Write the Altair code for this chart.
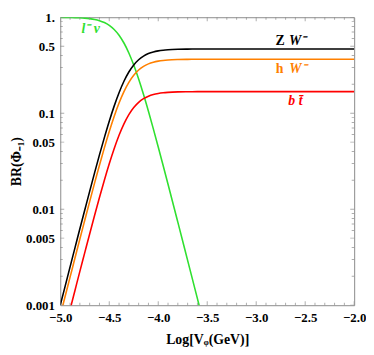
import altair as alt
import pandas as pd

# ---- data ----
X = [-5.0, -4.95, -4.9, -4.85, -4.8, -4.75, -4.7, -4.65, -4.6, -4.55, -4.5,
     -4.45, -4.4, -4.35, -4.3, -4.25, -4.2, -4.15, -4.1, -4.05, -4.0,
     -3.95, -3.9, -3.8, -3.7, -3.6, -3.5, -3.3, -3.0, -2.5, -2.0]

ZW = [0.00100, 0.00158, 0.00251, 0.00396, 0.00626, 0.00981, 0.01536, 0.0239,
      0.0368, 0.0557, 0.0826, 0.1186, 0.1636, 0.2152, 0.2687, 0.3186, 0.3609,
      0.3940, 0.4181, 0.4349, 0.4462, 0.4537, 0.4585, 0.4636, 0.4656, 0.4664,
      0.4668, 0.4670, 0.467, 0.467, 0.467]

HW = [0.000781, 0.00124, 0.00196, 0.00310, 0.00489, 0.00767, 0.01201, 0.01869,
      0.02876, 0.04358, 0.06453, 0.0927, 0.1279, 0.1682, 0.2100, 0.2490, 0.2821,
      0.3079, 0.3268, 0.3399, 0.3488, 0.3546, 0.3584, 0.3623, 0.3639, 0.3646,
      0.3648, 0.3650, 0.365, 0.365, 0.365]

BT = [0.000360, 0.000570, 0.000902, 0.001425, 0.002251, 0.003528, 0.005527,
      0.008602, 0.01324, 0.02006, 0.02970, 0.04267, 0.05887, 0.07743, 0.09667,
      0.1146, 0.1299, 0.1417, 0.1504, 0.1565, 0.1605, 0.1632, 0.1649, 0.1668,
      0.1675, 0.1678, 0.1679, 0.1680, 0.168, 0.168, 0.168]

LNU = [0.9979, 0.9966, 0.9946, 0.9915, 0.9866, 0.9790, 0.9671, 0.9488, 0.9212,
       0.8806, 0.8232, 0.7460, 0.6496, 0.5391, 0.4246, 0.3177, 0.2271, 0.1564,
       0.1047, 0.0687, 0.0445, 0.0285, 0.0182, 0.00733, 0.00293, 0.00117,
       0.000465]

SERIES = ["lnu", "ZW", "hW", "bt"]
COLORS = ["#30e030", "#000000", "#ff8000", "#ff0000"]

LABEL_TEXT = ["l\u207b  \u03bd", "Z", "W\u207b", "h", "W\u207b", "b t\u0304"]
LABEL_X = [-4.69, -2.755, -2.578, -2.760, -2.574, -2.60]
LABEL_Y = [0.76, 0.56, 0.56, 0.292, 0.292, 0.134]
LABEL_COLOR = ["#30e030", "#000000", "#000000", "#ff8000", "#ff8000", "#ff0000"]
LABEL_ITALIC = [True, False, True, False, True, True]

X_MAJOR = [-5.0, -4.5, -4.0, -3.5, -3.0, -2.5, -2.0]
X_MINOR = [-4.9, -4.8, -4.7, -4.6, -4.4, -4.3, -4.2, -4.1, -3.9, -3.8, -3.7,
           -3.6, -3.4, -3.3, -3.2, -3.1, -2.9, -2.8, -2.7, -2.6, -2.4, -2.3,
           -2.2, -2.1]
Y_MAJOR = [1, 0.5, 0.1, 0.05, 0.01, 0.005, 0.001]
Y_MINOR = [0.002, 0.003, 0.004, 0.006, 0.007, 0.008, 0.009,
           0.02, 0.03, 0.04, 0.06, 0.07, 0.08, 0.09,
           0.2, 0.3, 0.4, 0.6, 0.7, 0.8, 0.9]

X_EDGES = [-5.0, -2.0]   # left / right frame
Y_EDGES = [0.001, 1.0]   # bottom / top frame
MAJOR_LEN = 8            # drawn centred on the frame and clipped -> half inside
MINOR_LEN = 5

# ---- tables ----
rows = []
for name, ys in zip(SERIES, [LNU, ZW, HW, BT]):
    for xv, yv in zip(X, ys):
        rows.append({"x": xv, "br": yv, "s": name})
df = pd.DataFrame(rows)

lab = pd.DataFrame({"x": LABEL_X, "br": LABEL_Y, "t": LABEL_TEXT,
                    "c": LABEL_COLOR, "it": LABEL_ITALIC})

xt_rows = []
for e in Y_EDGES:
    for v in X_MAJOR:
        xt_rows.append({"x": v, "br": e, "len": MAJOR_LEN})
    for v in X_MINOR:
        xt_rows.append({"x": v, "br": e, "len": MINOR_LEN})
xt = pd.DataFrame(xt_rows)

yt_rows = []
for e in X_EDGES:
    for v in Y_MAJOR:
        yt_rows.append({"x": e, "br": v, "len": MAJOR_LEN})
    for v in Y_MINOR:
        yt_rows.append({"x": e, "br": v, "len": MINOR_LEN})
yt = pd.DataFrame(yt_rows)

FONT = "Liberation Serif"
GRAY = "#8a8a8a"
xs = alt.Scale(domain=[-5, -2], nice=False, zero=False)
ys_ = alt.Scale(type="log", domain=[0.001, 1], nice=False)
cs = alt.Scale(domain=SERIES, range=COLORS)

lines = alt.Chart(df).mark_line(strokeWidth=1.6, clip=True, interpolate="monotone").encode(
    x=alt.X("x:Q", scale=xs, axis=alt.Axis(
        orient="bottom", values=X_MAJOR, format=".1f", ticks=False,
        domain=False, grid=False, labelFont=FONT,
        labelFontSize=13, labelFontWeight="bold", labelColor="black",
        labelPadding=7, labelFlush=False, labelOverlap=False,
        title="Log[V\u1d69(GeV)]", titleFont=FONT,
        titleFontSize=14, titleFontWeight="bold", titleColor="black",
        titlePadding=8)),
    y=alt.Y("br:Q", scale=ys_, axis=alt.Axis(
        orient="left", values=Y_MAJOR, labelExpr="datum.value >= 1 ? '1.' : datum.label",
        format="~g", ticks=False, domain=False, grid=False,
        labelFont=FONT, labelFontSize=13,
        labelFontWeight="bold", labelColor="black", labelPadding=6,
        labelFlush=False, labelOverlap=False,
        title="BR(\u03a6\u208b\u2081)", titleFont=FONT, titleFontSize=14,
        titleFontWeight="bold", titleColor="black", titlePadding=2)),
    color=alt.Color("s:N", scale=cs, legend=None),
    detail="s:N",
)

xticks = alt.Chart(xt).mark_tick(orient="vertical", thickness=1, color=GRAY, clip=True).encode(
    x=alt.X("x:Q", scale=xs, axis=None),
    y=alt.Y("br:Q", scale=ys_, axis=None),
    size=alt.Size("len:Q", scale=None, legend=None),
)
yticks = alt.Chart(yt).mark_tick(orient="horizontal", thickness=1, color=GRAY, clip=True).encode(
    x=alt.X("x:Q", scale=xs, axis=None),
    y=alt.Y("br:Q", scale=ys_, axis=None),
    size=alt.Size("len:Q", scale=None, legend=None),
)

txt_base = alt.Chart(lab)
txt_up = txt_base.transform_filter("!datum.it").mark_text(
    font=FONT, fontSize=14, fontWeight="bold", align="center", baseline="middle"
).encode(
    x=alt.X("x:Q", scale=xs, axis=None),
    y=alt.Y("br:Q", scale=ys_, axis=None),
    text="t:N",
    color=alt.Color("c:N", scale=None),
)
txt_it = txt_base.transform_filter("datum.it").mark_text(
    font=FONT, fontSize=14, fontWeight="bold", fontStyle="italic",
    align="center", baseline="middle"
).encode(
    x=alt.X("x:Q", scale=xs, axis=None),
    y=alt.Y("br:Q", scale=ys_, axis=None),
    text="t:N",
    color=alt.Color("c:N", scale=None),
)

chart = alt.layer(lines, xticks, yticks, txt_up, txt_it).resolve_axis(
    x="independent", y="independent"
).properties(
    width=298, height=292,
    padding={"left": 53, "top": 7, "right": 12, "bottom": 40},
    autosize=alt.AutoSizeParams(type="none"),
).configure_view(stroke=GRAY, strokeWidth=1)

chart.save("out.html", embed_options={"renderer": "svg", "actions": False})
